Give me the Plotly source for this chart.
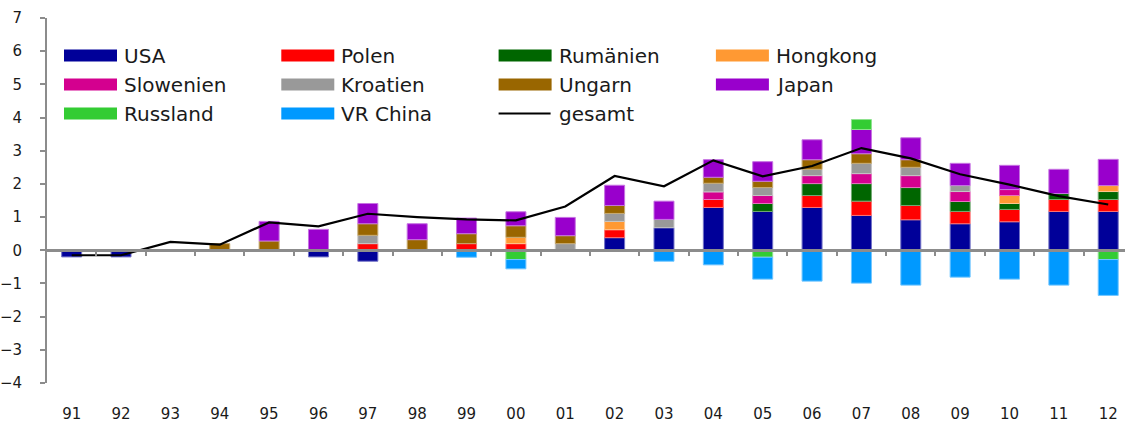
import plotly.graph_objects as go

years = ["91", "92", "93", "94", "95", "96", "97", "98", "99", "00", "01",
         "02", "03", "04", "05", "06", "07", "08", "09", "10", "11", "12"]

N = None
usa        = [-0.20, -0.20, N, N, N, -0.20, -0.33, N, N, N, N, 0.38, 0.68, 1.29, 1.17, 1.29, 1.05, 0.92, 0.80, 0.86, 1.17, 1.17]
polen      = [N, N, N, N, N, N, 0.20, N, 0.20, 0.20, N, 0.24, N, 0.24, N, 0.36, 0.43, 0.43, 0.37, 0.37, 0.36, 0.36]
rumaenien  = [N, N, N, N, N, N, N, N, N, N, N, N, N, N, 0.24, 0.36, 0.53, 0.54, 0.30, 0.18, 0.18, 0.24]
hongkong   = [N, N, N, N, N, N, N, N, N, 0.19, N, 0.25, N, N, N, N, N, N, N, 0.24, N, 0.18]
slowenien  = [N, N, N, N, N, N, N, N, N, N, N, N, N, 0.23, 0.24, 0.24, 0.30, 0.36, 0.30, 0.18, N, N]
kroatien   = [N, N, N, N, N, N, 0.25, N, N, N, 0.20, 0.24, 0.25, 0.26, 0.24, 0.19, 0.31, 0.25, 0.18, N, N, N]
ungarn     = [N, N, N, 0.20, 0.28, N, 0.35, 0.32, 0.30, 0.35, 0.24, 0.24, N, 0.18, 0.19, 0.29, 0.29, 0.23, N, N, N, N]
japan      = [N, N, N, N, 0.59, 0.63, 0.61, 0.48, 0.47, 0.42, 0.55, 0.61, 0.55, 0.53, 0.59, 0.60, 0.73, 0.66, 0.67, 0.73, 0.73, 0.79]
russland   = [N, N, N, N, N, N, N, N, N, -0.28, N, N, N, N, -0.21, N, 0.30, N, N, N, N, -0.28]
vr_china   = [N, N, N, N, N, N, N, N, -0.21, -0.28, N, N, -0.33, -0.44, -0.66, -0.93, -0.99, -1.05, -0.81, -0.87, -1.05, -1.08]
gesamt     = [-0.15, -0.15, 0.25, 0.17, 0.84, 0.72, 1.10, 1.00, 0.93, 0.90, 1.32, 2.24, 1.93, 2.71, 2.23, 2.54, 3.08, 2.77, 2.29, 1.98, 1.63, 1.38]

series_names = ["USA", "Polen", "Rumänien", "Hongkong", "Slowenien", "Kroatien",
                "Ungarn", "Japan", "Russland", "VR China"]
series_values = [usa, polen, rumaenien, hongkong, slowenien, kroatien,
                 ungarn, japan, russland, vr_china]
series_colors = ["#000099", "#FF0000", "#006600", "#FF9933", "#D4008F", "#999999",
                 "#996600", "#9900CC", "#33CC33", "#0099FF"]

FONT = "Century Gothic, DejaVu Sans, sans-serif"
W, H = 1125, 423
ML, MR, MT, MB = 47, 0, 18, 40
PW, PH = W - ML - MR, H - MT - MB


def lighten(hexc, f=0.45):
    h = hexc.lstrip("#")
    r, g, b = int(h[0:2], 16), int(h[2:4], 16), int(h[4:6], 16)
    r, g, b = [int(c + (255 - c) * f) for c in (r, g, b)]
    return f"rgb({r},{g},{b})"


def px(xpix):
    return (xpix - ML) / PW


def py(ypix):
    return (MT + PH - ypix) / PH


xs = list(range(len(years)))
fig = go.Figure()
for name, vals, col in zip(series_names, series_values, series_colors):
    fig.add_trace(go.Bar(x=xs, y=vals, name=name, marker_color=col,
                         marker_line=dict(color=lighten(col), width=1),
                         showlegend=False))
fig.add_trace(go.Scatter(x=xs, y=gesamt, name="gesamt", mode="lines",
                         line=dict(color="black", width=2.2), showlegend=False))
# helper trace so the zero-axis overlay is rendered
fig.add_trace(go.Scatter(x=[None], y=[None], xaxis="x2", showlegend=False,
                         hoverinfo="skip"))

xrange = [-0.5, 21.34]
fig.update_layout(
    width=W, height=H, autosize=False,
    margin=dict(l=ML, r=MR, t=MT, b=MB, pad=0),
    paper_bgcolor="white", plot_bgcolor="white",
    barmode="relative", bargap=0.595,
    font=dict(family=FONT, size=15, color="#1a1a1a"),
    xaxis=dict(range=xrange, tickmode="array", tickvals=xs, ticktext=years,
               showline=False, showgrid=False, zeroline=False, ticks="",
               automargin=False, ticklabelstandoff=20, tickfont=dict(size=15)),
    xaxis2=dict(range=xrange, overlaying="x", anchor="free", position=4 / 11,
                tickmode="array", tickvals=[i + 0.5 for i in xs[:-1]],
                ticks="outside", ticklen=4, tickwidth=1.5, tickcolor="#8c8c8c",
                showticklabels=False, showline=True, linecolor="#8c8c8c",
                linewidth=3, showgrid=False, zeroline=False, automargin=False),
    yaxis=dict(range=[-4, 7], dtick=1, tick0=0, showline=True,
               linecolor="#8c8c8c", linewidth=2, ticks="outside", ticklen=5,
               tickwidth=1.5, tickcolor="#8c8c8c", showgrid=False,
               zeroline=False, automargin=False, ticklabelstandoff=15,
               tickfont=dict(size=15)),
)

# legend drawn as shapes + text (4 columns)
legend_names = series_names + ["gesamt"]
legend_colors = series_colors + ["black"]
shapes, annots = [], []
for k, (name, col) in enumerate(zip(legend_names, legend_colors)):
    c, r = k % 4, k // 4
    x0 = 64 + c * 217.3
    yc = 55.5 + r * 29
    if name == "gesamt":
        shapes.append(dict(type="line", xref="paper", yref="paper",
                           x0=px(x0), x1=px(x0 + 52), y0=py(yc), y1=py(yc),
                           line=dict(color="black", width=2)))
    else:
        shapes.append(dict(type="rect", xref="paper", yref="paper",
                           x0=px(x0), x1=px(x0 + 53), y0=py(yc - 6), y1=py(yc + 6),
                           fillcolor=col, line=dict(width=0)))
    annots.append(dict(text=name, xref="paper", yref="paper", x=px(x0 + 58),
                       y=py(yc + 1), xanchor="left", yanchor="middle",
                       showarrow=False, font=dict(size=20, family=FONT,
                                                  color="#1a1a1a")))
fig.update_layout(shapes=shapes, annotations=annots)

fig.write_html("out.html", config={"displayModeBar": False},
               post_script="document.body.style.margin='0px';"
                           "document.body.style.overflow='hidden';")
